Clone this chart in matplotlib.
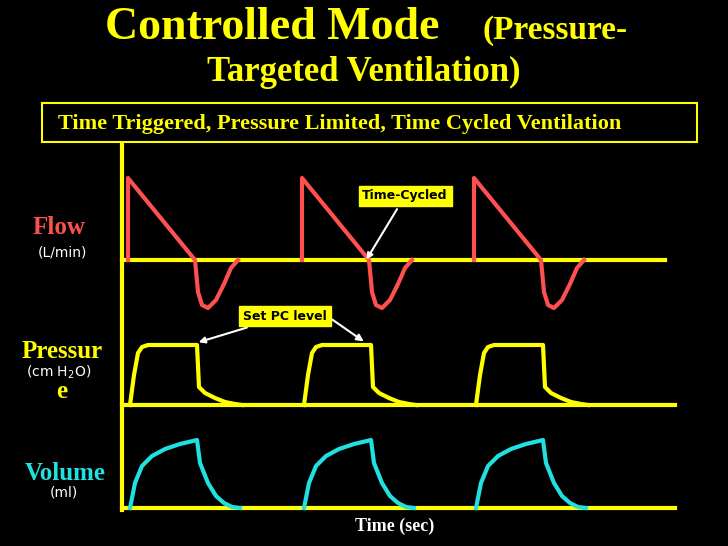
import numpy as np
import matplotlib.pyplot as plt

# cycle start positions (time axis, px units of the original chart)
cycle_starts = [128, 302, 474]

# one breath, (time offset, height above baseline)
flow_t = [0, 0, 67, 70, 74, 80, 88, 96, 103, 110]
flow_v = [0, 82, 0, -32, -45, -48, -40, -24, -8, 0]

pres_t = [0, 4, 8, 12, 18, 67, 69, 75, 85, 95, 105, 112]
pres_v = [0, 30, 52, 58, 60, 60, 18, 12, 7, 3, 1, 0]

vol_t = [0, 5, 12, 22, 35, 50, 67, 70, 78, 86, 94, 102, 110]
vol_v = [0, 25, 42, 52, 59, 64, 68, 45, 25, 12, 5, 1, 0]

baselines = {'flow': 260, 'pres': 405, 'vol': 508}

fig = plt.figure(figsize=(7.28, 5.46), dpi=100, facecolor='black')
ax = fig.add_axes([0, 0, 1, 1])
ax.set_xlim(0, 728)
ax.set_ylim(546, 0)
ax.axis('off')
ax.set_facecolor('black')

Y = '#ffff00'
serif = ['Liberation Serif', 'DejaVu Serif']

ax.text(105, 28, 'Controlled Mode', color=Y, fontsize=33, fontweight='bold',
        family=serif, ha='left', va='center')
ax.text(628, 30, '(Pressure-', color=Y, fontsize=24, fontweight='bold',
        family=serif, ha='right', va='center')
ax.text(364, 72, 'Targeted Ventilation)', color=Y, fontsize=25, fontweight='bold',
        family=serif, ha='center', va='center')

ax.add_patch(plt.Rectangle((42, 103), 655, 39, fill=False, ec=Y, lw=1.5))
ax.text(58, 124, 'Time Triggered, Pressure Limited, Time Cycled Ventilation',
        color=Y, fontsize=16, fontweight='bold', family=serif, va='center')

# axes lines
ax.plot([122, 122], [145, 510], color=Y, lw=3)
ax.plot([122, 665], [baselines['flow']] * 2, color=Y, lw=3)
ax.plot([122, 675], [baselines['pres']] * 2, color=Y, lw=3)
ax.plot([122, 675], [baselines['vol']] * 2, color=Y, lw=3)

for s in cycle_starts:
    ax.plot(np.array(flow_t) + s, baselines['flow'] - np.array(flow_v), color='#ff5050', lw=3)
    ax.plot(np.array(pres_t) + s + 2, baselines['pres'] - np.array(pres_v), color=Y, lw=3)
    ax.plot(np.array(vol_t) + s + 2, baselines['vol'] - np.array(vol_v), color='#20e0e0', lw=3)

ax.text(33, 228, 'Flow', color='#ff5050', fontsize=18, fontweight='bold', family=serif, va='center')
ax.text(38, 252, '(L/min)', color='white', fontsize=10, va='center')
ax.text(22, 352, 'Pressur', color=Y, fontsize=18, fontweight='bold', family=serif, va='center')
ax.text(56, 392, 'e', color=Y, fontsize=18, fontweight='bold', family=serif, va='center')
ax.text(26, 372, '(cm H$_2$O)', color='white', fontsize=10, va='center')
ax.text(25, 474, 'Volume', color='#20e0e0', fontsize=18, fontweight='bold', family=serif, va='center')
ax.text(50, 493, '(ml)', color='white', fontsize=10, va='center')
ax.text(395, 526, 'Time (sec)', color='white', fontsize=13, fontweight='bold', family=serif,
        ha='center', va='center')

box = dict(boxstyle='square,pad=0.3', fc=Y, ec=Y)
arrow = dict(arrowstyle='-|>', color='white', lw=1.5)
ax.annotate('Time-Cycled', xy=(365, 262), xytext=(405, 196), fontsize=9, fontweight='bold',
            color='black', ha='center', va='center', bbox=box, arrowprops=arrow)
ax.annotate('Set PC level', xy=(196, 343), xytext=(285, 316), fontsize=9, fontweight='bold',
            color='black', ha='center', va='center', bbox=box, arrowprops=arrow)
ax.annotate('', xy=(366, 343), xytext=(330, 318), arrowprops=arrow)

fig.savefig('out.png', dpi=100, facecolor='black')
